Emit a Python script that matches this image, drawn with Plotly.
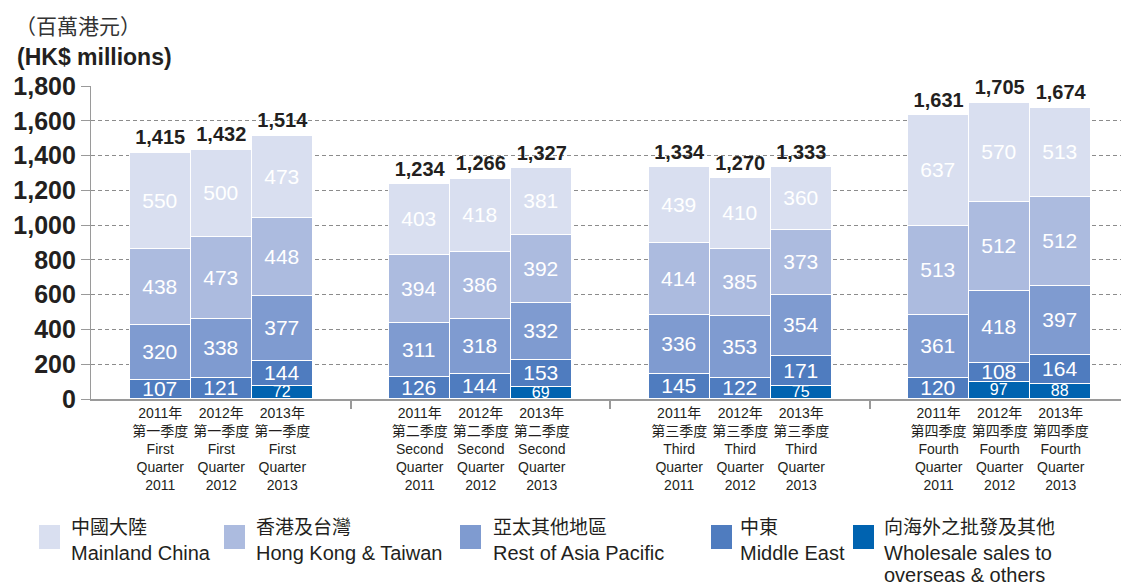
import plotly.graph_objects as go

# ---------------- data ----------------
years = ["2011", "2012", "2013"]
quarters_cn = ["第一季度", "第二季度", "第三季度", "第四季度"]
quarters_en = ["First", "Second", "Third", "Fourth"]

mainland = [550, 500, 473, 403, 418, 381, 439, 410, 360, 637, 570, 513]
hk_taiwan = [438, 473, 448, 394, 386, 392, 414, 385, 373, 513, 512, 512]
rest_asia = [320, 338, 377, 311, 318, 332, 336, 353, 354, 361, 418, 397]
middle_east = [107, 121, 144, 126, 144, 153, 145, 122, 171, 120, 108, 164]
wholesale = [0, 0, 72, 0, 0, 69, 0, 0, 75, 0, 97, 88]
totals = [1415, 1432, 1514, 1234, 1266, 1327, 1334, 1270, 1333, 1631, 1705, 1674]

series_cn = ["中國大陸", "香港及台灣", "亞太其他地區", "中東", "向海外之批發及其他"]
series_en = ["Mainland China", "Hong Kong & Taiwan", "Rest of Asia Pacific",
             "Middle East", "Wholesale sales to<br>overseas & others"]
y_ticks = [0, 200, 400, 600, 800, 1000, 1200, 1400, 1600, 1800]

# ---------------- styles ----------------
colors = ["#d9dff0", "#acbbdf", "#7f9bd0", "#4f7cbf", "#0063b0"]
GROUP_STEP = 4.25
PAGE_OFF = 8                     # browser default body margin
W, H = 1129 - PAGE_OFF, 587 - PAGE_OFF
L, T = 91 - PAGE_OFF, 86 - PAGE_OFF
R = 0
B = H - (399 - PAGE_OFF)
X0 = -2.134
X_SPAN = (W - L - R) / 61.05
TXT = "#231f20"
AXC = "#9a9a9a"
FONT = "Liberation Sans, Arial, Noto Sans CJK TC, sans-serif"
CJK = "Noto Sans CJK TC, sans-serif"

xs = [g * GROUP_STEP + (i - 1) for g in range(len(quarters_en)) for i in range(len(years))]
labels = [f"{y}年<br>{quarters_cn[g]}<br>{quarters_en[g]}<br>Quarter<br>{y}"
          for g in range(len(quarters_en)) for y in years]
separators = [(g + 0.5) * GROUP_STEP for g in range(len(quarters_en) - 1)]

fig = go.Figure()

stack = [wholesale, middle_east, rest_asia, hk_taiwan, mainland]
stack_colors = [colors[4], colors[3], colors[2], colors[1], colors[0]]
stack_names = [series_en[4], series_en[3], series_en[2], series_en[1], series_en[0]]
for vals, col, name in zip(stack, stack_colors, stack_names):
    yv = [v if v else None for v in vals]
    txt = [f"{v:,}" if v else "" for v in vals]
    sizes = [21 if v >= 100 else 16 for v in vals]
    fig.add_trace(go.Bar(
        x=xs, y=yv, name=name, width=1.0,
        marker=dict(color=col, line=dict(color="white", width=1.5)),
        text=txt, textposition="inside", insidetextanchor="middle",
        constraintext="none", textangle=0,
        textfont=dict(color="white", size=sizes, family=FONT),
        showlegend=False, hoverinfo="skip",
    ))

fig.add_trace(go.Scatter(
    x=xs, y=totals, mode="markers+text", text=[f"{t:,}" for t in totals],
    textposition="top center",
    marker=dict(size=4, color="rgba(0,0,0,0)"),
    textfont=dict(color=TXT, size=20, family=FONT, weight="bold"),
    showlegend=False, cliponaxis=False, hoverinfo="skip",
))

fig.update_layout(
    width=W, height=H, barmode="stack", bargap=0,
    margin=dict(l=L, r=R, t=T, b=B),
    paper_bgcolor="white", plot_bgcolor="white",
    font=dict(family=FONT, color=TXT),
    xaxis=dict(
        range=[X0, X0 + X_SPAN], tickmode="array", tickvals=xs, ticktext=labels,
        ticks="", showgrid=False, zeroline=False,
        showline=True, linecolor=AXC, linewidth=1.5,
        tickfont=dict(size=14, color=TXT, family=FONT),
        minor=dict(tickmode="array", tickvals=separators, ticks="outside",
                   ticklen=8, tickcolor=AXC, tickwidth=1.5, showgrid=False),
    ),
    yaxis=dict(
        range=[0, 1800], tickmode="array", tickvals=y_ticks,
        ticktext=[f"{v:,}" for v in y_ticks],
        ticks="outside", ticklen=9, tickcolor=AXC, tickwidth=1.2,
        showline=True, linecolor=AXC, linewidth=1.2,
        showgrid=True, gridcolor="#8c8c8c", gridwidth=1, griddash="4px,3px",
        zeroline=False,
        tickfont=dict(size=25, color=TXT, family=FONT, weight="bold"),
    ),
)


def px_x(p):
    return (p - PAGE_OFF - L) / (W - L - R)


def px_y(p):
    return (H - B - (p - PAGE_OFF)) / (H - T - B)


# titles
fig.add_annotation(xref="paper", yref="paper", x=px_x(13), y=px_y(25),
                   xanchor="left", yanchor="middle", showarrow=False,
                   text="（百萬港元）", font=dict(family=CJK, size=21, color="#333333"))
fig.add_annotation(xref="paper", yref="paper", x=px_x(15), y=px_y(57),
                   xanchor="left", yanchor="middle", showarrow=False,
                   text="(HK$ millions)",
                   font=dict(family=FONT, size=23, color=TXT, weight="bold"))

# legend (drawn manually for large swatches)
swatch_x = [39, 224, 460, 711, 853]
text_x = [69, 254, 491, 738, 882]
EN_LINE = 22
for i in range(len(series_cn)):
    fig.add_shape(type="rect", xref="paper", yref="paper",
                  x0=px_x(swatch_x[i]), x1=px_x(swatch_x[i] + 21),
                  y0=px_y(525), y1=px_y(549),
                  fillcolor=colors[i], line=dict(width=0))
    fig.add_annotation(xref="paper", yref="paper", x=px_x(text_x[i]), y=px_y(525),
                       xanchor="left", yanchor="middle", showarrow=False,
                       text=series_cn[i], font=dict(family=CJK, size=19, color=TXT))
    for k, line in enumerate(series_en[i].split("<br>")):
        fig.add_annotation(xref="paper", yref="paper", x=px_x(text_x[i]),
                           y=px_y(553 + k * EN_LINE),
                           xanchor="left", yanchor="middle", showarrow=False,
                           text=line, font=dict(family=FONT, size=20, color=TXT))

fig.write_html("out.html")
